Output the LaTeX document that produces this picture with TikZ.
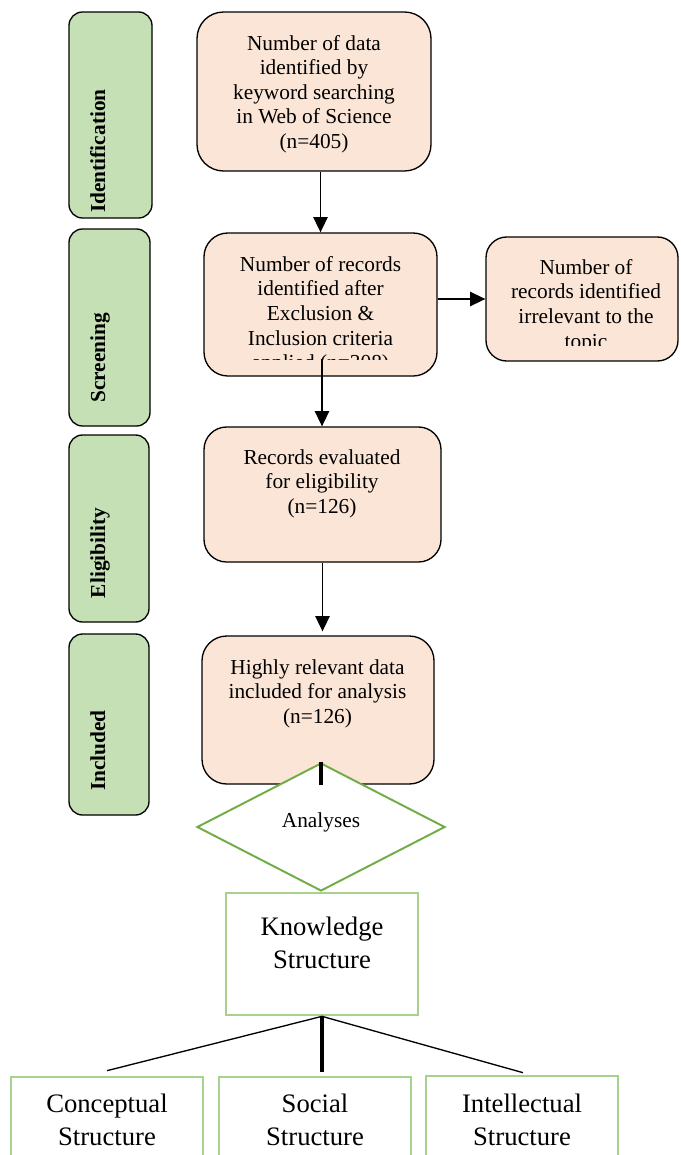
\documentclass[tikz,border=0pt]{standalone}
\usepackage{fontspec}
\setmainfont{Liberation Serif}
\usetikzlibrary{arrows.meta,shapes.geometric,calc}
\definecolor{peach}{HTML}{FBE5D6}
\definecolor{stagefill}{HTML}{C5E0B4}
\definecolor{dgreen}{HTML}{70AD47}
\definecolor{lgreen}{HTML}{A9D18E}
\begin{document}
\begin{tikzpicture}[x=0.5625pt,y=-0.5625pt,
  boxdim/.style 2 args={minimum width=#1*0.5625pt, minimum height=#2*0.5625pt},
  stage/.style={draw=black, line width=0.75pt, fill=stagefill, rounded corners=7.6pt, inner sep=0pt},
  flowbox/.style={draw=black, line width=0.75pt, fill=peach, inner sep=0pt},
  boxtext/.style={inner sep=0pt, align=center, anchor=north, font=\fontsize{12}{13.84}\selectfont},
  stagetext/.style={inner sep=0pt, rotate=90, anchor=base, font=\fontsize{12}{13.84}\selectfont\bfseries},
  outbox/.style={draw=lgreen, line width=1.5pt, fill=white, inner sep=0pt},
  bigtext/.style={inner sep=0pt, align=center, anchor=north, font=\fontsize{15}{18.6}\selectfont},
  flow/.style={line width=0.75pt, -{Triangle[width=8pt,length=8.5pt]}},
  thinline/.style={line width=0.75pt},
  thickline/.style={line width=1.8pt},
]
\useasboundingbox (0,0) rectangle (681,1155);
\fill[white] (0,0) rectangle (681,1155);
\begin{scope}
\clip (0,0) rectangle (681,1155);

% stage labels
\node[stage, boxdim={83}{206}] (g1) at (110.5,115) {};
\node[stage, boxdim={81}{197}] (g2) at (109.5,327.5) {};
\node[stage, boxdim={80}{187}] (g3) at (109,528.5) {};
\node[stage, boxdim={80}{181}] (g4) at (109,724.5) {};
\node[stagetext] (g1t) at (105,151) {Identification};
\node[stagetext] (g2t) at (105,358) {Screening};
\node[stagetext] (g3t) at (105,553) {Eligibility};
\node[stagetext] (g4t) at (105,750.5) {Included};

% flow boxes
\node[flowbox, rounded corners=14.9pt, boxdim={234}{159}] (A) at (314,91.5) {};
\node[boxtext] (At) at (314,32.5) {\strut Number of data\\identified by\\keyword searching\\in Web of Science\\(n=405)};

\node[flowbox, rounded corners=13.4pt, boxdim={233}{143}] (B) at (320.5,304.5) {};
\begin{scope}
\clip (204,233) rectangle (437,359);
\node[boxtext] (Bt) at (320.5,253.8) {\strut Number of records\\identified after\\Exclusion \&\\Inclusion criteria\\applied (n=308)};
\end{scope}

\node[flowbox, rounded corners=11.6pt, boxdim={192}{124}] (C) at (582,299) {};
\begin{scope}
\clip (486,237) rectangle (678,345);
\node[boxtext] (Ct) at (586,256.8) {\strut Number of\\records identified\\irrelevant to the\\topic};
\end{scope}

\node[flowbox, rounded corners=12.7pt, boxdim={237}{135}] (D) at (322.5,494.5) {};
\node[boxtext] (Dt) at (322,446.8) {\strut Records evaluated\\for eligibility\\(n=126)};

\node[flowbox, rounded corners=13.9pt, boxdim={232}{148}] (E) at (318,710) {};
\node[boxtext] (Et) at (317.5,656.8) {\strut Highly relevant data\\included for analysis\\(n=126)};

% arrows
\draw[flow] (A.south -| B.north) -- (B.north);
\draw[flow] (B.east |- C.west) -- (C.west);
\coordinate (bd) at (322,359);
\draw[flow] (bd) -- (bd |- D.north);
\draw[flow] (D.south) -- ($(D.south |- E.north)+(0,-4)$);

% diamond
\node[diamond, draw=dgreen, line width=1.1pt, fill=white, inner sep=0pt, boxdim={248}{128}] (dia) at (321,827) {};
\node[inner sep=0pt, anchor=base, font=\fontsize{12}{13.84}\selectfont] (anl) at (dia.center) {Analyses};
\draw[thickline] (dia.north) -- (dia.north |- E.south);

% knowledge structure
\node[outbox, boxdim={192}{122}] (KS) at (322,954) {};
\node[bigtext] (KSt) at (322,911.9) {\strut Knowledge\\Structure};

\node[outbox, boxdim={192}{98}] (CS) at (107,1126) {};
\node[outbox, boxdim={192}{98}] (SS) at (315,1126) {};
\node[outbox, boxdim={192}{98}] (IS) at (522,1125) {};
\node[bigtext] (CSt) at (107,1088.9) {\strut Conceptual\\Structure};
\node[bigtext] (SSt) at (315,1088.9) {\strut Social\\Structure};
\node[bigtext] (ISt) at (522,1088.9) {\strut Intellectual\\Structure};

\draw[thinline] (KS.south) -- ($(CS.north)+(0,-5)$);
\draw[thickline] (KS.south) -- ($(KS.south |- SS.north)+(0,-4)$);
\draw[thinline] (KS.south) -- ($(IS.north)+(1,-2)$);
\end{scope}
\end{tikzpicture}
\end{document}
